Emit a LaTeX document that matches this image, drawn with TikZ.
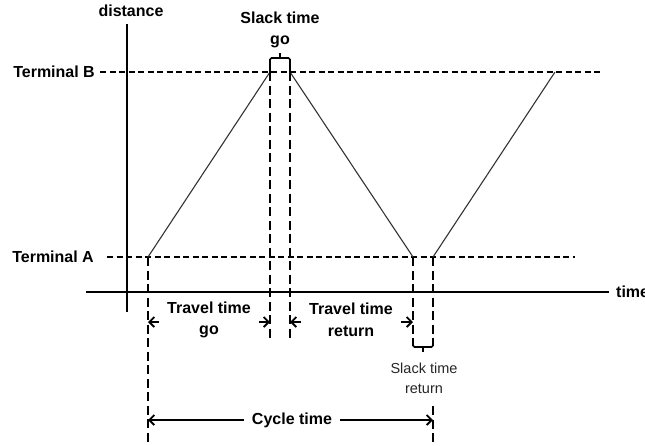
\documentclass[tikz,border=0pt]{standalone}
\usepackage{fontspec}
\setmainfont{Liberation Sans}
\usetikzlibrary{arrows.meta}
\begin{document}
\begin{tikzpicture}[x=1pt,y=-1pt,
  lbl/.style={font=\fontsize{16}{21.5}\selectfont\bfseries, inner sep=0pt, align=center},
  lblreg/.style={font=\fontsize{14.5}{20}\selectfont, text=black!85, inner sep=0pt, align=center},
  axis/.style={line width=2.4pt},
  hdash/.style={line width=2.2pt, dash pattern=on 6pt off 3.5pt},
  vdash/.style={line width=2.2pt, dash pattern=on 9pt off 4.5pt},
  trip/.style={line width=1.1pt, black!80},
  brk/.style={line width=1.6pt, rounded corners=1.5pt},
  dim/.style={line width=1.8pt, {Straight Barb[length=5pt,width=10pt]}-{Straight Barb[length=5pt,width=10pt]}},
  dimtext/.style={lbl, fill=white, inner xsep=8pt, inner ysep=1pt}
]
\useasboundingbox (0,0) rectangle (645,445);

% key points
\coordinate (a0) at (148,257);
\coordinate (b0) at (270,72);
\coordinate (b1) at (290,72);
\coordinate (a1) at (413,257);
\coordinate (a2) at (433,257);
\coordinate (b2) at (555,72);

% terminal lines
\node[lbl, anchor=east] (tB) at (95,72) {Terminal B};
\node[lbl, anchor=east] (tA) at (94,257) {Terminal A};
\coordinate (tBend) at (600,72);
\coordinate (tAend) at (575,257);
\draw[hdash] (tB.east) ++(5,0) coordinate (tBs) -- (tBend);
\draw[hdash] (tA.east) ++(13,0) coordinate (tAs) -- (tAend);

% axes
\coordinate (yb) at (127,312);
\coordinate (yt) at (127,24);
\coordinate (xl) at (86,292);
\coordinate (xr) at (609,292);
\draw[axis] (yb) -- (yt);
\draw[axis] (xl) -- (xr);
\node[lbl] (dist) at (131,11) {distance};
\node[lbl, anchor=west] (tm) at (616,292) {time};

% trips
\draw[trip] (a0) -- (b0);
\draw[trip] (b1) -- (a1);
\draw[trip] (a2) -- (b2);

% vertical dashed guides
\coordinate (g0) at (148,445);
\coordinate (g1) at (270,340);
\coordinate (g2) at (290,340);
\coordinate (g3) at (413,346);
\coordinate (g4) at (433,346);
\coordinate (g5t) at (433,406);
\coordinate (g5b) at (433,445);
\draw[vdash] (a0) -- (g0);
\draw[vdash] (b0) -- (g1);
\draw[vdash] (b1) -- (g2);
\draw[vdash] (a1) -- (g3);
\draw[vdash] (a2) -- (g4);
\draw[vdash] (g5t) -- (g5b);

% slack go bracket
\draw[brk] (b0) -- (270,58) -- (290,58) -- (b1);
\draw[brk] (280,58) -- (280,53);
\node[lbl] (sgo) at (280,30) {Slack time\\go};

% slack return bracket
\draw[brk] (g3) -- (413,347) -- (433,347) -- (g4);
\draw[brk] (423,347) -- (423,352);
\node[lblreg] (sret) at (424,378) {Slack time\\return};

% travel time go
\coordinate (tg1) at (148,322);
\coordinate (tg2) at (270,322);
\draw[dim] (tg1) -- (tg2);
\node[dimtext] (tgt) at (209,320) {Travel time\\go};

% travel time return
\coordinate (tr1) at (290,322);
\coordinate (tr2) at (413,322);
\draw[dim] (tr1) -- (tr2);
\node[dimtext] (trt) at (351,320) {Travel time\\return};

% cycle time
\coordinate (c1) at (148,420);
\coordinate (c2) at (433,420);
\draw[dim] (c1) -- (c2);
\node[dimtext] (ct) at (292,420) {Cycle time};
\end{tikzpicture}
\end{document}
